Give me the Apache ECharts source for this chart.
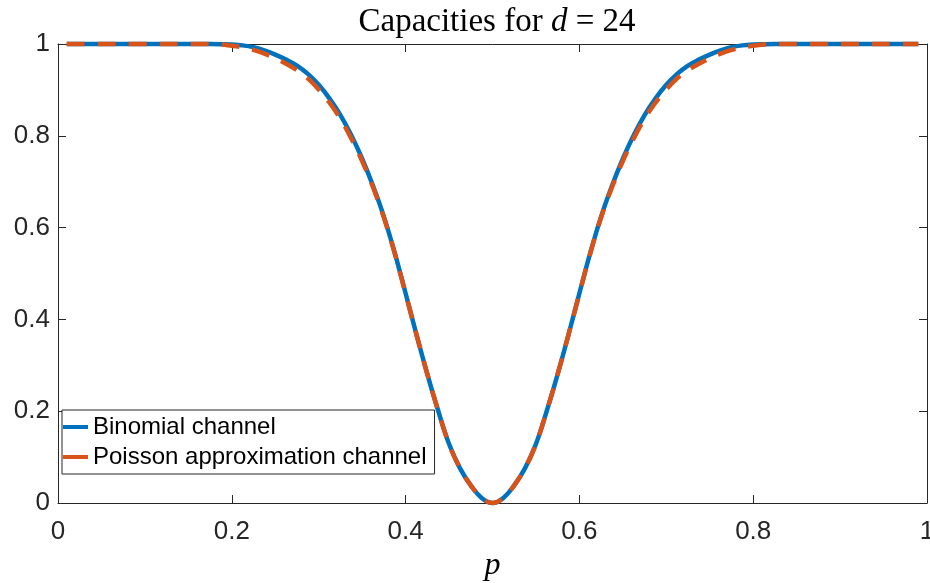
<!DOCTYPE html>
<html lang="en">
<head>
<meta charset="UTF-8">
<title>Capacities for d = 24</title>
<script src="https://cdn.jsdelivr.net/npm/echarts@6/dist/echarts.min.js"></script>
<style>
  html, body { margin: 0; padding: 0; background: #fff; }
  #chart { width: 930px; height: 583px; }
</style>
</head>
<body>
<div id="chart"></div>
<script>
// values
var pVals = [0.01, 0.05, 0.10, 0.15, 0.175, 0.1875, 0.20, 0.2125, 0.225, 0.2375, 0.25, 0.2625, 0.275, 0.2875,
             0.30, 0.3125, 0.325, 0.3375, 0.35, 0.3625, 0.375, 0.3875, 0.40, 0.4125, 0.425, 0.4375, 0.45, 0.4625,
             0.475, 0.4875, 0.50,
             0.5125, 0.525, 0.5375, 0.55, 0.5625, 0.575, 0.5875, 0.60, 0.6125, 0.625, 0.6375, 0.65, 0.6625, 0.675,
             0.6875, 0.70, 0.7125, 0.725, 0.7375, 0.75, 0.7625, 0.775, 0.7875, 0.80, 0.8125, 0.825, 0.85, 0.90,
             0.95, 0.99];
var binomVals = [1, 1, 1, 1, 1, 0.9997, 0.999, 0.997, 0.993, 0.986, 0.977, 0.966, 0.953, 0.935,
                 0.911, 0.881, 0.845, 0.801, 0.750, 0.691, 0.624, 0.545, 0.457, 0.367, 0.281, 0.201, 0.1285, 0.076,
                 0.0385, 0.011, 0,
                 0.011, 0.0385, 0.076, 0.1285, 0.201, 0.281, 0.367, 0.457, 0.545, 0.624, 0.691, 0.750, 0.801, 0.845,
                 0.881, 0.911, 0.935, 0.953, 0.966, 0.977, 0.986, 0.993, 0.997, 0.999, 0.9997, 1, 1, 1,
                 1, 1];
var poissonVals = [1, 1, 1, 1, 1, 0.999, 0.996, 0.993, 0.987, 0.979, 0.969, 0.957, 0.943, 0.925,
                   0.901, 0.872, 0.837, 0.794, 0.745, 0.688, 0.622, 0.544, 0.456, 0.367, 0.281, 0.201, 0.1285, 0.076,
                   0.0385, 0.011, 0,
                   0.011, 0.0385, 0.076, 0.1285, 0.201, 0.281, 0.367, 0.456, 0.544, 0.622, 0.688, 0.745, 0.794, 0.837,
                   0.872, 0.901, 0.925, 0.943, 0.957, 0.969, 0.979, 0.987, 0.993, 0.996, 0.999, 1, 1, 1,
                   1, 1];
var seriesNames = ['Binomial channel', 'Poisson approximation channel'];

function pairs(ys) {
  var out = [];
  for (var i = 0; i < pVals.length; i++) out.push([pVals[i], ys[i]]);
  return out;
}

var axisColor = '#262626';

// box axes (top / right only carry inward ticks)
function boxAxis(pos, labelMargin, extra) {
  var a = {
    type: 'value', position: pos, min: 0, max: 1, interval: 0.2,
    axisLine: { show: true, onZero: false, lineStyle: { color: axisColor, width: 1 } },
    axisTick: { show: true, inside: true, length: 8, lineStyle: { color: axisColor, width: 1 } },
    axisLabel: labelMargin ? { fontFamily: 'Liberation Sans', fontSize: 26, color: axisColor, margin: labelMargin }
                           : { show: false },
    splitLine: { show: false }
  };
  for (var k in extra) a[k] = extra[k];
  return a;
}

var chart = echarts.init(document.getElementById('chart'));
chart.setOption({
  animation: false,
  backgroundColor: '#fff',
  title: {
    text: '{a|Capacities for }{i|d}{a| = 24}',
    left: 492, top: 1, textAlign: 'center',
    textStyle: {
      rich: {
        a: { fontFamily: 'Liberation Serif', fontSize: 33, fontWeight: 'normal', color: '#000' },
        i: { fontFamily: 'Liberation Serif', fontStyle: 'italic', fontWeight: 'normal', fontSize: 33, color: '#000' }
      }
    }
  },
  grid: { left: 58, right: 3, top: 44, bottom: 80, containLabel: false, outerBoundsMode: 'none' },
  legend: {
    orient: 'vertical', left: 62, top: 410,
    data: seriesNames,
    icon: 'rect', itemWidth: 25, itemHeight: 4, itemGap: 6,
    padding: [5, 8, 5, 1],
    borderColor: axisColor, borderWidth: 1, backgroundColor: '#fff',
    textStyle: { fontFamily: 'Liberation Sans', fontSize: 24, color: '#000' }
  },
  xAxis: [
    boxAxis('bottom', 16, {
      name: 'p', nameLocation: 'middle', nameGap: 45,
      nameTextStyle: { fontFamily: 'Liberation Serif', fontStyle: 'italic', fontSize: 32, color: '#000' }
    }),
    boxAxis('top', 0, {})
  ],
  yAxis: [boxAxis('left', 8, {}), boxAxis('right', 0, {})],
  series: [
    {
      name: seriesNames[0], type: 'line', data: pairs(binomVals),
      smooth: 0.4, showSymbol: false, clip: false,
      itemStyle: { color: '#0072BD' },
      lineStyle: { color: '#0072BD', width: 4.5 }
    },
    {
      name: seriesNames[1], type: 'line', data: pairs(poissonVals),
      smooth: 0.4, showSymbol: false, clip: false,
      itemStyle: { color: '#D95319' },
      lineStyle: { color: '#D95319', width: 4.5, type: [18, 13] }
    }
  ]
});
</script>
</body>
</html>
